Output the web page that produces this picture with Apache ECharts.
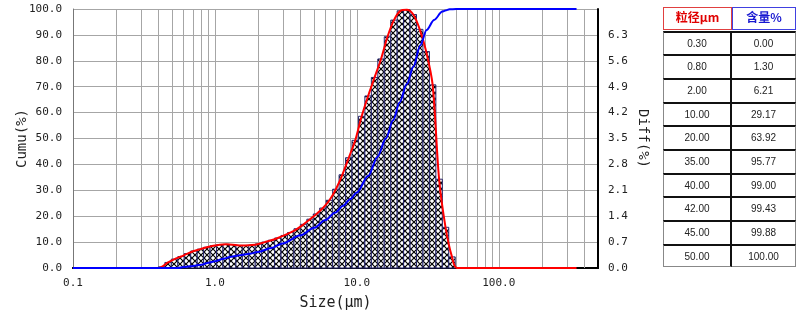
<!DOCTYPE html>
<html>
<head>
<meta charset="utf-8">
<script src="https://cdn.jsdelivr.net/npm/echarts@6/dist/echarts.min.js"></script>
<style>
  html, body { margin: 0; padding: 0; background: #fff; }
  #chart { position: absolute; left: 0; top: 0; width: 800px; height: 321px; }
  #tbl { position: absolute; left: 663px; top: 7px; width: 133px; font-family: 'Liberation Sans', sans-serif; }
  .hdr { display: flex; height: 22.5px; margin-bottom: 1px; }
  .hdr div { box-sizing: border-box; border: 1px solid; background: #fff; text-align: center;
             line-height: 20px; font: bold 12px 'Noto Sans CJK SC', sans-serif; }
  .h1 { width: 69px; border-color: #e04040 !important; color: #e00000; }
  .h2 { width: 64px; border-color: #4040e0 !important; color: #1818d0; }
  .row { display: flex; height: 23.7px; }
  .row div { box-sizing: border-box; text-align: center; font-size: 10px; color: #222;
             border-top: 2px solid #111; line-height: 21px; }
  .row .c1 { width: 69px; border-left: 1px solid #888; border-right: 2px solid #111; }
  .row .c2 { width: 64px; border-right: 1px solid #888; }
  .row.last div { border-bottom: 1px solid #888; }
</style>
</head>
<body>
<div id="chart"></div>
<div id="tbl"></div>
<script>
// size class edges (µm) of the histogram bars
const binEdges = [0.400, 0.444, 0.493, 0.548, 0.608, 0.675, 0.750, 0.832, 0.924, 1.026,
  1.139, 1.265, 1.405, 1.560, 1.732, 1.923, 2.135, 2.370, 2.632, 2.922, 3.245, 3.603, 4.000,
  4.441, 4.931, 5.475, 6.079, 6.750, 7.495, 8.322, 9.240, 10.26, 11.39, 12.65, 14.05, 15.60,
  17.32, 19.23, 21.35, 23.70, 26.32, 29.22, 32.45, 36.03, 40.00, 44.41, 49.31];
// differential % of each class
const diffValues = [0.03, 0.15, 0.24, 0.31, 0.39, 0.46, 0.51, 0.56, 0.60, 0.63,
  0.64, 0.63, 0.61, 0.61, 0.62, 0.65, 0.70, 0.75, 0.81, 0.88,
  0.96, 1.06, 1.18, 1.32, 1.46, 1.62, 1.83, 2.13, 2.52, 2.98,
  3.45, 4.10, 4.65, 5.15, 5.65, 6.25, 6.70, 6.95, 6.98, 6.85,
  6.45, 5.85, 4.95, 2.40, 1.10, 0.30];
// cumulative curve
const cumuSizes  = [0.10, 0.55, 0.60, 0.70, 0.80, 0.90, 1.00, 1.15, 1.30, 1.50, 1.75, 2.00,
  2.50, 3.00, 4.00, 5.00, 6.00, 7.00, 8.00, 9.00, 10.0, 12.0, 14.0, 16.0, 18.0, 20.0,
  22.5, 25.0, 28.0, 31.0, 35.0, 40.0, 42.0, 45.0, 50.0, 353];
const cumuValues = [0, 0, 0.4, 0.8, 1.3, 2.0, 2.6, 3.6, 4.3, 4.9, 5.5, 6.21,
  7.7, 9.5, 12.6, 15.5, 18.5, 21.3, 24.0, 26.6, 29.17, 35.5, 43.0, 50.0, 57.0, 63.92,
  71.0, 77.7, 86.0, 91.9, 95.77, 99.0, 99.43, 99.88, 100, 100];
// minor log grid lines
const minorGrid = [0.2, 0.3, 0.4, 0.5, 0.6, 0.7, 0.8, 0.9, 2, 3, 4, 5, 6, 7, 8, 9,
  20, 30, 40, 50, 60, 70, 80, 90, 200, 300, 400];
// table at right
const tableSizes    = ['0.30', '0.80', '2.00', '10.00', '20.00', '35.00', '40.00', '42.00', '45.00', '50.00'];
const tableContents = ['0.00', '1.30', '6.21', '29.17', '63.92', '95.77', '99.00', '99.43', '99.88', '100.00'];

// table
let html = '<div class="hdr"><div class="h1">粒径μm</div><div class="h2">含量%</div></div>';
tableSizes.forEach((s, i) => {
  html += '<div class="row' + (i === tableSizes.length - 1 ? ' last' : '') + '"><div class="c1">' + s +
    '</div><div class="c2">' + tableContents[i] + '</div></div>';
});
document.getElementById('tbl').innerHTML = html;

// cross hatch fill
const pc = document.createElement('canvas');
pc.width = 6; pc.height = 6;
const g = pc.getContext('2d');
g.fillStyle = '#fff'; g.fillRect(0, 0, 6, 6);
g.strokeStyle = '#000'; g.lineWidth = 1.2;
g.beginPath(); g.moveTo(0, 0); g.lineTo(6, 6); g.moveTo(6, 0); g.lineTo(0, 6); g.stroke();
const hatch = { image: pc, repeat: 'repeat' };

const barData = diffValues.map((v, i) => [binEdges[i], binEdges[i + 1], v]);
const redData = [[0.1, 0], [0.4, 0]]
  .concat(diffValues.map((v, i) => [Math.sqrt(binEdges[i] * binEdges[i + 1]), v]))
  .concat([[51, 0], [353, 0]]);
const blueData = cumuSizes.map((s, i) => [s, cumuValues[i]]);

const monoFont = 'DejaVu Sans Mono';
const gridColor = '#a6a6a6';

const chart = echarts.init(document.getElementById('chart'));
chart.setOption({
  animation: false,
  grid: { left: 73, top: 9, right: 202, bottom: 53 },
  xAxis: [
    {
      type: 'log', logBase: 10, min: 0.1, max: 500,
      axisLine: { lineStyle: { color: '#000', width: 2 } },
      axisTick: { show: false },
      splitLine: { show: true, lineStyle: { color: gridColor, width: 1 } },
      axisLabel: {
        margin: 10, fontFamily: monoFont, fontSize: 11, color: '#222',
        formatter: v => (v > 300 ? '' : v.toFixed(1))
      },
      name: 'Size(μm)', nameLocation: 'middle', nameGap: 28,
      nameTextStyle: { fontFamily: monoFont, fontSize: 15, color: '#222' }
    },
    {
      type: 'log', logBase: 10, min: 0.1, max: 500, position: 'top',
      axisLine: { lineStyle: { color: '#000', width: 2 } },
      axisTick: { show: false }, axisLabel: { show: false }, splitLine: { show: false }
    }
  ],
  yAxis: [
    {
      type: 'value', min: 0, max: 100, interval: 10, position: 'left',
      axisLine: { show: true, lineStyle: { color: '#777', width: 1 } },
      axisTick: { show: false },
      splitLine: { show: true, lineStyle: { color: gridColor, width: 1 } },
      axisLabel: { margin: 11, fontFamily: monoFont, fontSize: 11, color: '#222', formatter: v => v.toFixed(1) },
      name: 'Cumu(%)', nameLocation: 'middle', nameGap: 44, nameRotate: 90, nameMoveOverlap: false,
      nameTextStyle: { fontFamily: monoFont, fontSize: 14, color: '#222' }
    },
    {
      type: 'value', min: 0, max: 7, interval: 0.7, position: 'right',
      axisLine: { show: true, lineStyle: { color: '#000', width: 2 } },
      axisTick: { show: false },
      splitLine: { show: false },
      axisLabel: { margin: 10, fontFamily: monoFont, fontSize: 11, color: '#222', showMaxLabel: false,
        formatter: v => (v > 6.9 ? '' : v.toFixed(1)) },
      name: 'Diff(%)', nameLocation: 'middle', nameGap: 38, nameRotate: -90, nameMoveOverlap: false,
      nameTextStyle: { fontFamily: monoFont, fontSize: 14, color: '#222' }
    }
  ],
  series: [
    {
      type: 'custom', z: 1, silent: true,
      data: minorGrid,
      encode: { x: 0 },
      renderItem: function (params, api) {
        const cs = params.coordSys;
        const x = Math.round(api.coord([api.value(0), 50])[0]) + 0.5;
        return {
          type: 'line',
          shape: { x1: x, y1: cs.y, x2: x, y2: cs.y + cs.height },
          style: { stroke: gridColor, lineWidth: 1 }
        };
      }
    },
    {
      type: 'custom', z: 2, yAxisIndex: 1, silent: true,
      data: barData,
      encode: { x: [0, 1], y: 2 },
      renderItem: function (params, api) {
        const p0 = api.coord([api.value(0), 0]);
        const p1 = api.coord([api.value(1), api.value(2)]);
        return {
          type: 'rect',
          shape: { x: p0[0], y: p1[1], width: p1[0] - p0[0], height: p0[1] - p1[1] },
          style: { fill: hatch, stroke: '#26266e', lineWidth: 1 }
        };
      }
    },
    {
      name: 'Diff', type: 'line', yAxisIndex: 1, z: 3,
      data: redData, showSymbol: false, smooth: 0.3,
      lineStyle: { color: '#ff0000', width: 2 }
    },
    {
      name: 'Cumu', type: 'line', yAxisIndex: 0, z: 4,
      data: blueData, showSymbol: false, smooth: 0.3, smoothMonotone: 'x',
      lineStyle: { color: '#0000ff', width: 2 }
    }
  ]
});
</script>
</body>
</html>
